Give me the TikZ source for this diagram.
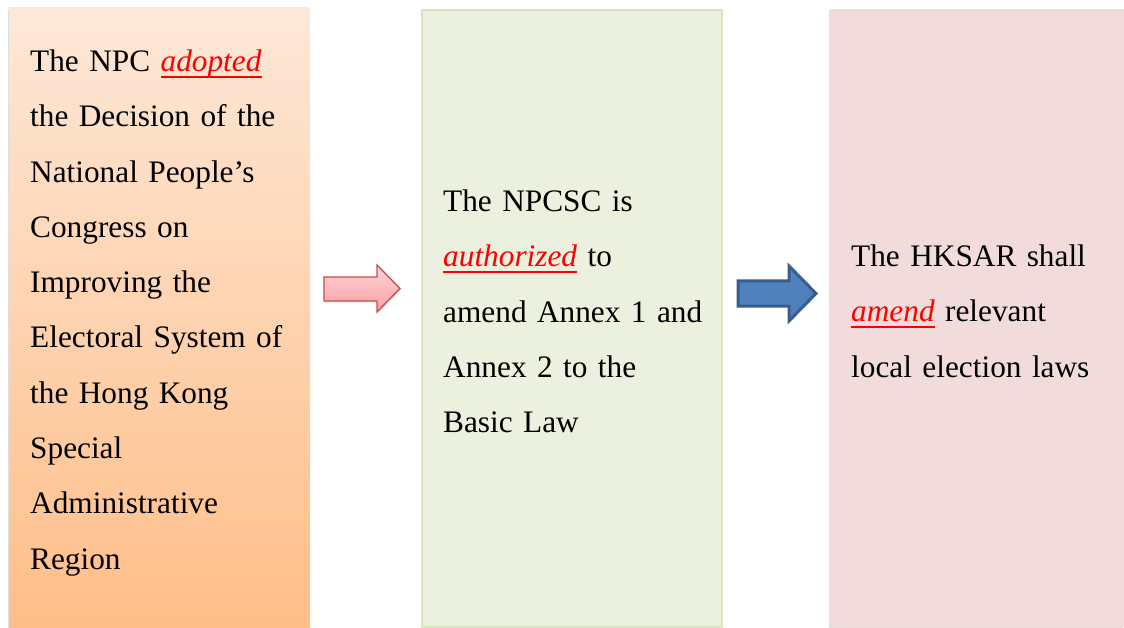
\documentclass[tikz,border=0pt]{standalone}
\usepackage{fontspec}
\setmainfont{Liberation Serif}
\usetikzlibrary{shadows}
\definecolor{orTop}{RGB}{253,232,216}
\definecolor{orBot}{RGB}{255,190,136}
\definecolor{grFill}{RGB}{235,241,222}
\definecolor{grLine}{RGB}{215,228,189}
\definecolor{pkFill}{RGB}{242,220,219}
\definecolor{arPinkTop}{RGB}{255,210,213}
\definecolor{arPinkBot}{RGB}{250,160,165}
\definecolor{arPinkLine}{RGB}{192,80,77}
\definecolor{arBlue}{RGB}{79,129,189}
\definecolor{arBlueLine}{RGB}{56,93,138}
\newsavebox{\kwbox}
\newcommand{\keyw}[1]{\textcolor{red}{\sbox{\kwbox}{\textit{#1}}\rlap{\rule[-6.5pt]{\wd\kwbox}{2pt}}\usebox{\kwbox}}}
\tikzset{
  boxshadow/.style={drop shadow={opacity=0.25, shadow xshift=-1.5pt, shadow yshift=-1.5pt}},
  boxtext/.style={anchor=base west, inner sep=0pt, text width=290pt, align=left,
    font=\fontsize{31.3}{55.3}\selectfont}
}
\begin{document}
\begin{tikzpicture}[x=1pt,y=-1pt]
\useasboundingbox (0,0) rectangle (1124,628);
% boxes
\path[boxshadow, top color=orTop, bottom color=orBot] (9,8) rectangle (310,627);
\path[boxshadow, fill=grFill, draw=grLine, line width=1.5pt] (422,10) rectangle (722,627);
\path[boxshadow, fill=pkFill] (830,9) rectangle (1124,627);
% texts
\node[boxtext] (t1) at (30,71.5) {The NPC \keyw{adopted}\\
the Decision of the\\
National People’s\\
Congress on\\
Improving the\\
Electoral System of\\
the Hong Kong\\
Special\\
Administrative\\
Region};
\node[boxtext] (t2) at (443,211.5) {The NPCSC is\\
\keyw{authorized} to\\
amend Annex 1 and\\
Annex 2 to the\\
Basic Law};
\node[boxtext] (t3) at (851,266.5) {The HKSAR shall\\
\keyw{amend} relevant\\
local election laws};
% arrows
\path[drop shadow={opacity=0.2, shadow xshift=1pt, shadow yshift=-1.5pt},
  top color=arPinkTop, bottom color=arPinkBot, draw=arPinkLine, line width=1.3pt, line join=miter]
  (324,277) -- (377,277) -- (377,265) -- (400,288.5) -- (377,312) -- (377,301) -- (324,301) -- cycle;
\path[fill=arBlue, draw=arBlueLine, line width=3pt, line join=miter]
  (738,281) -- (789,281) -- (789,266) -- (816,293.5) -- (789,321) -- (789,306) -- (738,306) -- cycle;
\end{tikzpicture}
\end{document}
